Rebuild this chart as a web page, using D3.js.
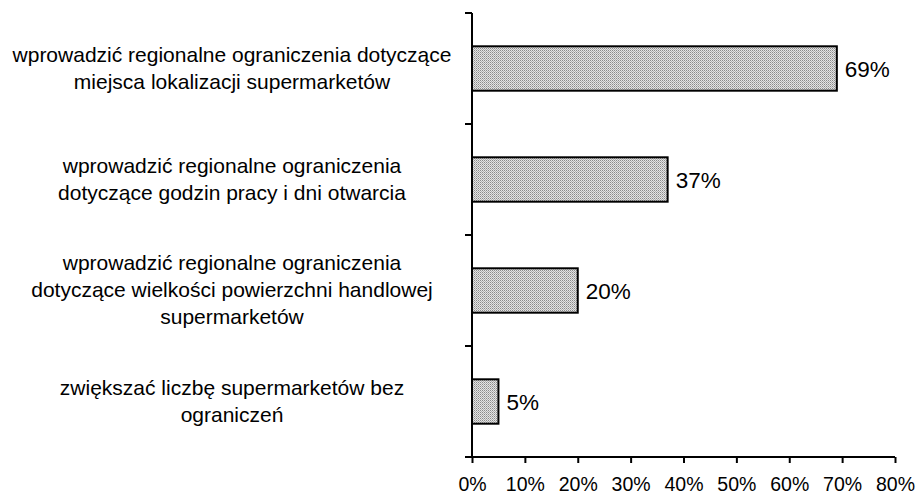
<!DOCTYPE html>
<html>
<head>
<meta charset="utf-8">
<script src="https://cdn.jsdelivr.net/npm/d3@7"></script>
<style>
body { margin: 0; background: #fff; }
text { font-family: Arial, "Liberation Sans", sans-serif; fill: #000; }
</style>
</head>
<body>
<script>
var categories = [
    ['wprowadzić regionalne ograniczenia dotyczące', 'miejsca lokalizacji supermarketów'],
    ['wprowadzić regionalne ograniczenia', 'dotyczące godzin pracy i dni otwarcia'],
    ['wprowadzić regionalne ograniczenia', 'dotyczące wielkości powierzchni handlowej', 'supermarketów'],
    ['zwiększać liczbę supermarketów bez', 'ograniczeń']
];
var values = [69, 37, 20, 5];
var xTicks = [0, 10, 20, 30, 40, 50, 60, 70, 80];

var svg = d3.select('body').append('svg').attr('width', 917).attr('height', 495);

var defs = svg.append('defs');
var pat = defs.append('pattern').attr('id', 'dots').attr('patternUnits', 'userSpaceOnUse')
    .attr('width', 2).attr('height', 2);
pat.append('rect').attr('width', 2).attr('height', 2).attr('fill', '#e4e4e4');
pat.append('rect').attr('width', 1).attr('height', 1).attr('fill', '#8a8a8a');
pat.append('rect').attr('x', 1).attr('y', 1).attr('width', 1).attr('height', 1).attr('fill', '#b0b0b0');

var plotL = 472, plotR = 895, plotT = 13, plotB = 457;

var x = d3.scaleLinear().domain([0, 80]).range([plotL, plotR]);
var y = d3.scaleBand().domain(d3.range(values.length)).range([plotT, plotB]).paddingInner(0.6).paddingOuter(0.3);
var yEdges = d3.scaleLinear().domain([0, values.length]).range([plotT, plotB]);

// bars
svg.selectAll('rect.bar').data(values).enter().append('rect')
    .attr('class', 'bar')
    .attr('x', x(0))
    .attr('y', (d, i) => y(i))
    .attr('width', d => x(d) - x(0))
    .attr('height', y.bandwidth())
    .attr('fill', 'url(#dots)')
    .attr('stroke', '#000')
    .attr('stroke-width', 2);

// value labels
svg.selectAll('text.val').data(values).enter().append('text')
    .attr('class', 'val')
    .attr('x', d => x(d) + 8)
    .attr('y', (d, i) => y(i) + y.bandwidth() / 2)
    .attr('dy', '0.36em')
    .attr('font-size', 22.5)
    .text(d => d + '%');

// category labels
var lineH = 27;
categories.forEach(function(lines, i) {
    var cy = y(i) + y.bandwidth() / 2;
    var t = svg.append('text').attr('text-anchor', 'middle').attr('font-size', 21);
    lines.forEach(function(l, j) {
        t.append('tspan').attr('x', 232)
            .attr('y', cy + (j - (lines.length - 1) / 2) * lineH)
            .attr('dy', '0.32em').text(l);
    });
});

// y axis
svg.append('line').attr('x1', plotL).attr('x2', plotL).attr('y1', plotT).attr('y2', plotB)
    .attr('stroke', '#000').attr('stroke-width', 2);
svg.selectAll('line.ytick').data(d3.range(values.length + 1)).enter().append('line')
    .attr('class', 'ytick')
    .attr('x1', plotL - 7).attr('x2', plotL)
    .attr('y1', d => yEdges(d)).attr('y2', d => yEdges(d))
    .attr('stroke', '#000').attr('stroke-width', 2);

// x axis
var xAxis = d3.axisBottom(x).tickValues(xTicks).tickFormat(d => d + '%').tickSize(6).tickSizeOuter(0);
var gx = svg.append('g').attr('transform', 'translate(0,' + plotB + ')').call(xAxis);
gx.select('.domain').remove();
gx.append('line').attr('x1', plotL - 7).attr('x2', plotR).attr('stroke', '#000').attr('stroke-width', 2);
gx.selectAll('.tick line').attr('stroke', '#000').attr('stroke-width', 2);
gx.selectAll('.tick text').attr('font-size', 19.5).attr('font-family', 'Arial, "Liberation Sans", sans-serif')
    .attr('fill', '#000').attr('y', 20).attr('dy', '0.71em');
</script>
</body>
</html>
